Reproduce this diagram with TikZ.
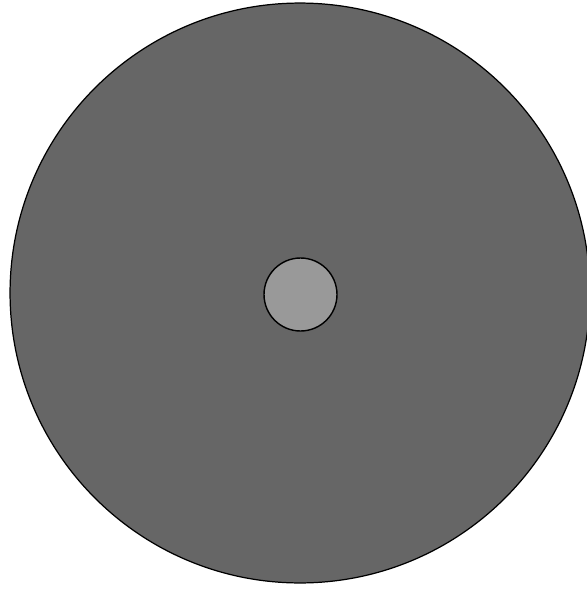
\documentclass[tikz,border=0pt]{standalone}
\usepackage{tikz}
\definecolor{Cdisc}{RGB}{102, 102, 102}
\definecolor{Chub}{RGB}{153, 153, 153}
\tikzset{
    cdisc/.style={
        circle, draw=black, line width=0.7pt, fill=Cdisc,
        minimum size=11.6cm, inner sep=0pt, outer sep=0pt
    },
    chub/.style={
        circle, draw=black, line width=0.8pt, fill=Chub,
        minimum size=1.46cm, inner sep=0pt, outer sep=0pt
    },
}
\begin{document}
\begin{tikzpicture}[x=0.02cm, y=-0.02cm]

    \useasboundingbox (0,0) rectangle (586,592);

    \node [cdisc] (disc) at (300,293) {};
    \node [chub] (hub) at (300.5,294.5) {};

\end{tikzpicture}
\end{document}
